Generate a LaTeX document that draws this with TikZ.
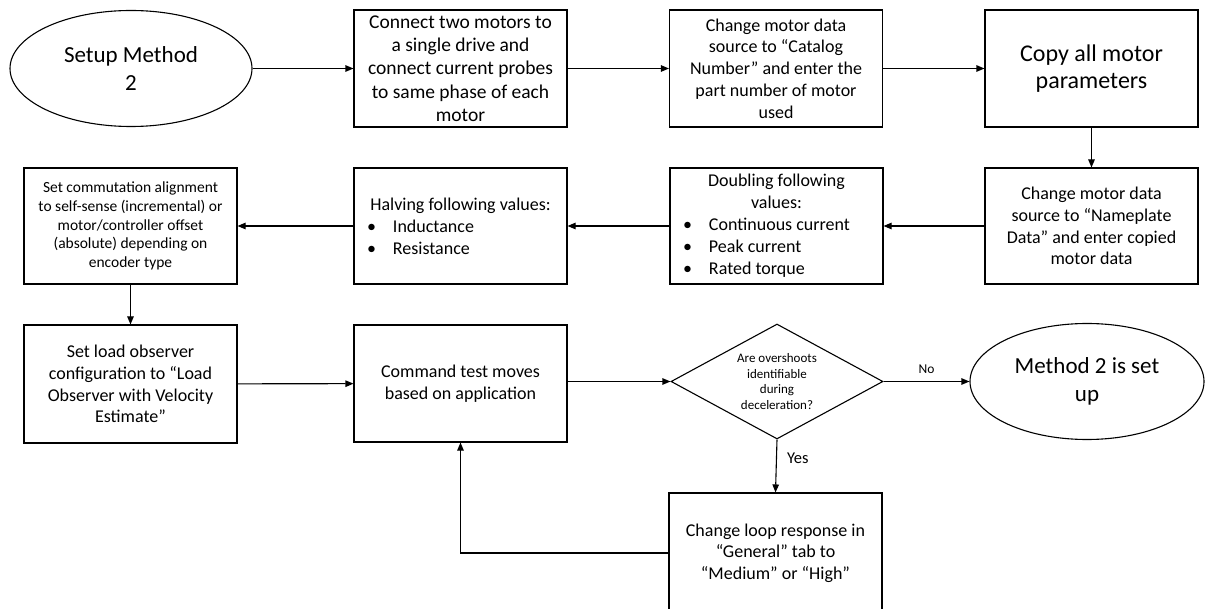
\documentclass[tikz,border=0pt]{standalone}
\usepackage{fontspec}
\setmainfont{Carlito}
\usetikzlibrary{arrows.meta,shapes.geometric}
\setlength\parindent{0pt}
\newcommand\fsz[2]{\fontsize{#1}{#2}\selectfont}
\newcommand\blt[1]{\makebox[26pt][l]{•}#1}
% centred heading followed by a left-aligned bullet list
\newcommand\bulletbox[2]{\parbox{187pt}{{\centering #1\par}\raggedright #2}}
\begin{document}
\begin{tikzpicture}[x=1pt,y=-1pt,
  every node/.style={inner sep=0pt, text=black},
  stepbox/.style={draw, line width=1.1pt, minimum width=213pt, minimum height=117pt, align=center, font=\fsz{18}{21.7}},
  terminal/.style={draw, ellipse, line width=1.1pt, minimum width=#1, minimum height=116pt, align=center, font=\fsz{23}{28}},
  decision/.style={draw, diamond, line width=1.1pt, aspect=1.84, minimum width=212pt, minimum height=115pt, align=center, font=\fsz{13}{15.6}},
  flow/.style={line width=1.1pt, -{Triangle[length=8pt,width=6.5pt]}},
  lbl/.style={font=\fsz{#1}{#1}}
]
\useasboundingbox (0,0) rectangle (1205,609);
\clip (0,0) rectangle (1205,609);

% top row
\node[terminal=242pt] (start) at (131,68.5) {Setup Method\\2};
\node[stepbox, font=\fsz{19.5}{23.3}] (wire) at (460.5,68.5)
  {Connect two motors to\\a single drive and\\connect current probes\\to same phase of each\\motor};
\node[stepbox] (catalog) at (776,68.5)
  {Change motor data\\source to “Catalog\\Number” and enter the\\part number of motor\\used};
\node[stepbox, font=\fsz{24}{26.5}] (copy) at (1091.5,68.5)
  {Copy all motor\\parameters};

% second row
\node[stepbox, minimum height=116pt] (nameplate) at (1091.5,226)
  {Change motor data\\source to “Nameplate\\Data” and enter copied\\motor data};
\node[stepbox, minimum height=116pt, font=\fsz{18}{22}] (double) at (776.5,226)
  {\bulletbox{Doubling following\\values:}{\blt{Continuous current}\\\blt{Peak current}\\\blt{Rated torque}}};
\node[stepbox, minimum height=116pt, font=\fsz{18}{22}] (halve) at (460.5,226)
  {\bulletbox{Halving following values:}{\blt{Inductance}\\\blt{Resistance}}};
\node[stepbox, minimum height=116pt, font=\fsz{15.5}{18.75}] (commut) at (130.5,226)
  {Set commutation alignment\\to self-sense (incremental) or\\motor/controller offset\\(absolute) depending on\\encoder type};

% third row
\node[stepbox, minimum height=118pt] (observer) at (130.5,384)
  {Set load observer\\configuration to “Load\\Observer with Velocity\\Estimate”};
\node[stepbox] (moves) at (460.5,383.5)
  {Command test moves\\based on application};
\node[decision] (check) at (777,381.5)
  {Are overshoots\\identifiable\\during\\deceleration?};
\node[terminal=234pt] (done) at (1087,381.5) {Method 2 is set\\up};
\node[stepbox, minimum height=120pt] (tune) at (775.5,553)
  {Change loop response in\\“General” tab to\\“Medium” or “High”};

% connectors
\draw[flow] (start) -- (wire);
\draw[flow] (wire) -- (catalog);
\draw[flow] (catalog) -- (copy);
\draw[flow] (copy) -- (nameplate);
\draw[flow] (nameplate) -- (double);
\draw[flow] (double) -- (halve);
\draw[flow] (halve) -- (commut);
\draw[flow] (commut) -- (observer);
\draw[flow] (observer) -- (moves);
\draw[flow] (moves.east |- check.west) -- (check.west);
\draw[flow] (check.east) -- node[lbl=13.5, above=7pt] {No} (done.west);
\draw[flow] (check.south) -- node[lbl=16.5, right=10pt, pos=0.35] {Yes} (tune.north);
\draw[flow] (tune.west) -| (moves.south);
\end{tikzpicture}
\end{document}
